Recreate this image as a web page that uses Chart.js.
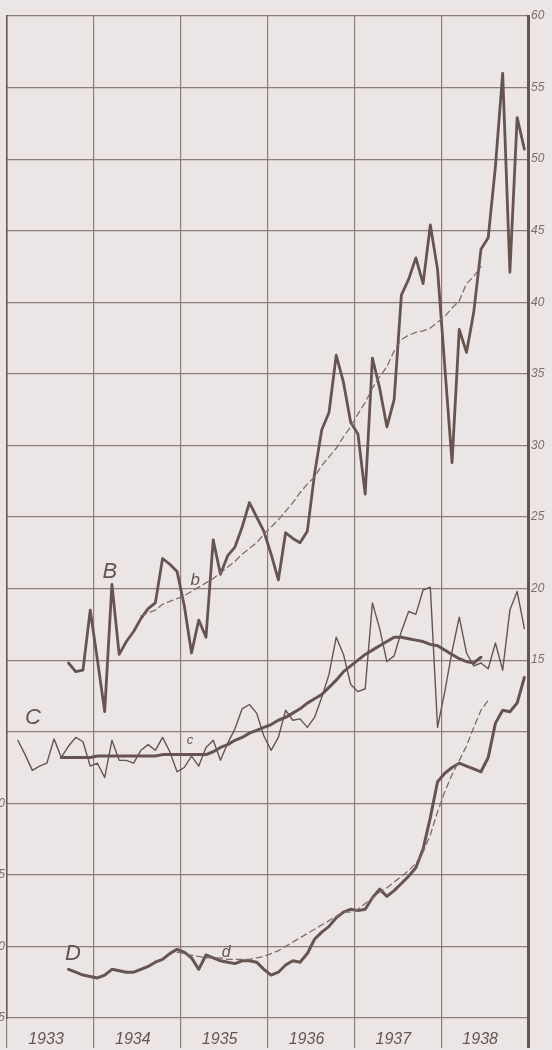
<!DOCTYPE html>
<html><head><meta charset="utf-8">
<script src="https://cdn.jsdelivr.net/npm/chart.js@4.4.1/dist/chart.umd.min.js"></script>
<style>
html,body{margin:0;padding:0;background:#ebe6e5;overflow:hidden;width:552px;height:1050px;}
#wrap{position:absolute;left:-14px;top:0;width:566px;height:1050px;}
canvas{display:block;}
</style></head><body>
<div id="wrap"><canvas id="c" width="566" height="1050"></canvas></div>
<script>
// ---- categories / ticks ----
const years = ['1933','1934','1935','1936','1937','1938'];
const rightTickValues = [15,20,25,30,35,40,45,50,55,60];
const leftTickValues = [5,10,15,20];

// ---- monthly series, Jan 1933 .. Dec 1938 (72 months), null = no value ----
const seriesB = [null,null,null,null,null,null,null,null,
  14.8,14.2,14.3,18.5,15.0,11.4,20.3,15.4,16.3,17.0,
  17.9,18.6,19.0,22.1,21.7,21.2,18.8,15.5,17.8,16.6,
  23.4,21.0,22.3,22.9,24.3,26.0,25.0,24.0,22.4,20.6,
  23.9,23.5,23.2,24.0,28.0,31.1,32.3,36.3,34.4,31.6,
  30.8,26.6,36.1,34.0,31.3,33.2,40.5,41.6,43.1,41.3,
  45.4,42.3,35.5,28.8,38.1,36.5,39.3,43.7,44.5,49.5,
  56.0,42.1,52.9,50.7];
const trendB = [null,null,null,null,null,null,null,null,null,null,null,null,null,null,null,null,null,null,
  18.1,18.3,18.5,18.9,19.1,19.3,19.5,19.8,20.1,20.4,
  20.7,21.1,21.5,21.9,22.4,22.8,23.2,23.8,24.3,24.8,
  25.4,26.0,26.7,27.3,27.8,28.6,29.2,29.8,30.6,31.3,
  32.2,33.0,34.0,34.8,35.5,36.6,37.4,37.7,37.9,38.0,
  38.2,38.6,39.0,39.6,40.1,41.3,41.8,42.5,
  null,null,null,null,null,null];
const seriesC = [null,
  9.4,8.4,7.3,7.6,7.8,9.5,8.2,9.0,9.6,9.3,
  7.6,7.8,6.8,9.4,8.0,8.0,7.8,8.7,9.1,8.7,
  9.6,8.6,7.2,7.5,8.3,7.6,8.9,9.4,8.0,9.2,
  10.2,11.6,11.9,11.3,9.7,8.7,9.6,11.5,10.8,10.9,
  10.3,11.0,12.4,14.0,16.6,15.4,13.3,12.8,13.0,19.0,
  17.2,14.9,15.3,17.0,18.4,18.2,19.9,20.1,10.3,12.8,
  15.6,18.0,15.5,14.6,14.8,14.4,16.2,14.3,18.5,19.8,
  17.2];
const trendC = [null,null,null,null,null,null,null,
  8.2,8.2,8.2,8.2,8.2,8.3,8.3,8.3,8.3,8.3,8.3,8.3,8.3,8.3,8.4,8.4,8.4,8.4,8.4,8.4,8.4,
  8.6,8.9,9.1,9.4,9.6,9.9,10.1,10.3,10.5,10.8,
  11.0,11.3,11.6,12.0,12.3,12.6,13.1,13.6,14.2,14.6,
  15.0,15.4,15.7,16.0,16.3,16.6,16.6,16.5,16.4,16.3,
  16.1,16.0,15.7,15.4,15.1,14.9,14.8,15.2,
  null,null,null,null,null,null];
const seriesD = [null,null,null,null,null,null,null,null,
  8.4,8.2,8.0,7.9,7.8,8.0,8.4,8.3,8.2,8.2,
  8.4,8.6,8.9,9.1,9.5,9.8,9.6,9.2,8.4,9.4,
  9.2,9.0,8.9,8.8,9.0,9.0,8.9,8.4,8.0,8.2,
  8.7,9.0,8.9,9.5,10.5,11.0,11.4,12.0,12.4,12.6,
  12.5,12.6,13.4,14.0,13.5,13.9,14.4,14.9,15.5,16.8,
  19.0,21.5,22.1,22.5,22.8,22.6,22.4,22.2,23.2,25.6,
  26.5,26.4,27.0,28.8];
const trendD = [null,null,null,null,null,null,null,null,null,null,null,null,null,null,null,null,null,null,null,null,null,null,null,
  9.6,9.5,9.4,9.3,9.2,9.2,9.2,9.1,9.1,9.1,
  9.1,9.2,9.3,9.5,9.7,10.0,10.3,10.6,10.9,11.2,
  11.5,11.8,12.1,12.4,12.4,12.6,13.0,13.4,13.8,14.1,
  14.5,14.9,15.3,15.8,16.6,17.8,19.4,20.8,22.0,23.0,
  24.0,25.3,26.5,27.2,
  null,null,null,null,null];

// ---- curve letters ----
const noteText  = ['B','b','C','c','D','d'];
const noteMonth = [14.2, 26.0, 3.6, 25.3, 9.1, 30.3];
const noteValue = [21.2, 20.6, 11.0, 9.4, 9.5, 9.6];
const noteAxis  = ['yR','yR','yR','yR','yL','yL'];
const noteSize  = [22, 17, 22, 13, 22, 16];

const INK = '#675450';
const GRID = '#8e7c78';
const DASH = '#7f6c68';
const pts = arr => arr.map((v,i) => ({x: i + 0.5, y: v}));

const notesPlugin = {
  id: 'notes',
  afterDatasetsDraw(chart) {
    const c = chart.ctx;
    c.save();
    c.fillStyle = INK;
    c.textAlign = 'center';
    c.textBaseline = 'middle';
    noteText.forEach((t, k) => {
      c.font = 'italic ' + noteSize[k] + 'px "Liberation Sans", sans-serif';
      c.fillText(t, chart.scales.x.getPixelForValue(noteMonth[k]),
                    chart.scales[noteAxis[k]].getPixelForValue(noteValue[k]));
    });
    c.restore();
  }
};

const lineDs = (data, axis, width, color, dash) => ({
  data: pts(data), yAxisID: axis, borderColor: color, borderWidth: width,
  borderDash: dash || [], pointRadius: 0, tension: 0, spanGaps: false,
  borderJoinStyle: 'round', borderCapStyle: 'round', fill: false
});

const isEdge = c => c.tick && c.tick.value === 72;

new Chart(document.getElementById('c'), {
  type: 'line',
  data: { datasets: [
    lineDs(trendB, 'yR', 1.3, DASH, [6,4]),
    lineDs(trendD, 'yL', 1.3, DASH, [6,4]),
    lineDs(seriesC, 'yR', 1.4, INK),
    lineDs(trendC, 'yR', 3, INK),
    lineDs(seriesD, 'yL', 3, INK),
    lineDs(seriesB, 'yR', 2.8, INK)
  ]},
  options: {
    responsive: false, animation: false,
    layout: { padding: { top: 16, bottom: 0, left: 0, right: 0 } },
    plugins: { legend: { display: false }, tooltip: { enabled: false } },
    scales: {
      x: {
        type: 'linear', min: 0, max: 72, position: 'bottom',
        afterBuildTicks: s => { s.ticks = [0,12,24,36,48,60,72].map(v => ({value: v})); },
        afterFit: s => { s.height = 32; },
        ticks: {
          autoSkip: false, maxRotation: 0, labelOffset: 39, padding: -18,
          color: INK, font: { family: 'Liberation Sans', style: 'italic', size: 16 },
          callback: v => years[v / 12] || ''
        },
        grid: {
          color: c => isEdge(c) ? INK : GRID,
          lineWidth: c => isEdge(c) ? 3 : 1.2,
          tickColor: c => isEdge(c) ? INK : GRID,
          tickWidth: c => isEdge(c) ? 3 : 1.2,
          tickLength: 30, drawTicks: true
        },
        border: { display: false }
      },
      yR: {
        type: 'linear', position: 'right', min: -10, max: 60,
        afterBuildTicks: s => { const t = []; for (let v = -10; v <= 60; v += 5) t.push({value: v}); s.ticks = t; },
        afterFit: s => { s.width = 24; },
        ticks: {
          padding: 3, color: DASH,
          font: { family: 'Liberation Sans', style: 'italic', size: 12 },
          callback: v => rightTickValues.includes(v) ? String(v) : ''
        },
        grid: { color: GRID, lineWidth: 1.2, drawTicks: false },
        border: { display: true, color: INK, width: 3 }
      },
      yL: {
        type: 'linear', position: 'left', min: 5, max: 75,
        afterBuildTicks: s => { s.ticks = leftTickValues.map(v => ({value: v})); },
        afterFit: s => { s.width = 21; },
        ticks: {
          padding: 2, color: DASH,
          font: { family: 'Liberation Sans', style: 'italic', size: 12 },
          callback: v => String(v)
        },
        grid: { display: false, drawTicks: false },
        border: { display: true, color: INK, width: 1.5 }
      }
    }
  },
  plugins: [notesPlugin]
});
</script>
</body></html>
